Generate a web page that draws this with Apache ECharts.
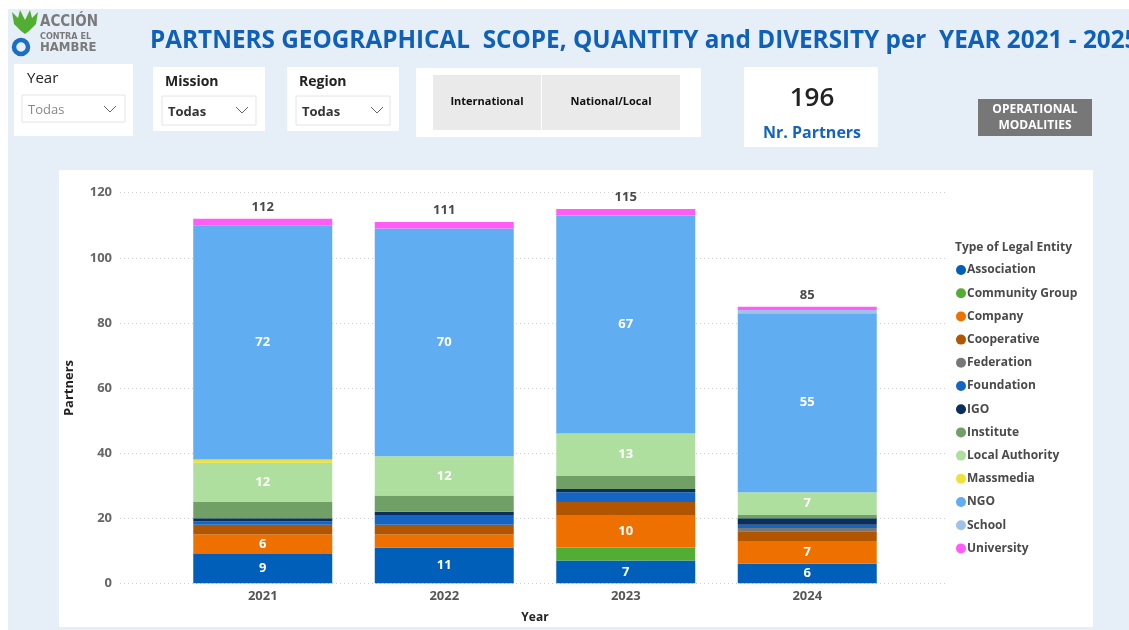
<!DOCTYPE html>
<html><head><meta charset="utf-8">
<script src="https://cdn.jsdelivr.net/npm/echarts@6/dist/echarts.min.js"></script>
<style>html,body{margin:0;padding:0;background:#fff}#c{width:1129px;height:630px}</style>
</head><body><div id="c"></div>
<script>
const years = ['2021', '2022', '2023', '2024'];
const entityTypes = ['Association','Community Group','Company','Cooperative','Federation','Foundation','IGO','Institute','Local Authority','Massmedia','NGO','School','University'];
const association     = [9, 11, 7, 6];
const communityGroup  = [0, 0, 4, 0];
const company         = [6, 4, 10, 7];
const cooperative     = [3, 3, 4, 3];
const federation      = [0, 0, 0, 1];
const foundation      = [1, 3, 3, 1];
const igo             = [1, 1, 1, 2];
const institute       = [5, 5, 4, 1];
const localAuthority  = [12, 12, 13, 7];
const massmedia       = [1, 0, 0, 0];
const ngo             = [72, 70, 67, 55];
const school          = [0, 0, 0, 1];
const university      = [2, 2, 2, 1];
const yTicks = [0, 20, 40, 60, 80, 100, 120];
const totalPartners = 196;

const seriesValues = [association, communityGroup, company, cooperative, federation, foundation, igo, institute, localAuthority, massmedia, ngo, school, university];
const colors = ['#005FB8','#52AD33','#EE7100','#B25500','#777777','#1466C2','#0A2F5C','#71A066','#AEDF9E','#F0E03A','#60ADF2','#9DC3EA','#FF5CF8'];
const totals = years.map((_, i) => seriesValues.reduce((s, arr) => s + arr[i], 0));

const chart = echarts.init(document.getElementById('c'));
const FONT = 'Open Sans';

const series = entityTypes.map((name, k) => {
  const isLast = k === entityTypes.length - 1;
  return {
    name, type: 'bar', stack: 'total', xAxisIndex: 1, yAxisIndex: 1,
    barWidth: 139,
    data: seriesValues[k].map(v => v === 0 ? null : v),
    itemStyle: { color: colors[k] },
    label: isLast ? {
      show: true, position: 'top', distance: 5,
      formatter: p => String(totals[p.dataIndex]),
      color: '#4A4A4A', fontWeight: 'bold', fontSize: 13, fontFamily: FONT
    } : {
      show: true, position: 'inside',
      formatter: p => p.value >= 6 ? String(p.value) : '',
      color: '#fff', fontWeight: 'bold', fontSize: 13, fontFamily: FONT
    },
    emphasis: { disabled: true }
  };
});

function chevron(x, y) {
  return { type: 'polyline', shape: { points: [[x, y], [x + 6, y + 6], [x + 12, y]] }, style: { stroke: '#666', lineWidth: 1, fill: null } };
}

const LOGO = '"DejaVu Sans Condensed", "Open Sans"';
const graphic = [
  { type: 'rect', z: -10, silent: true, shape: { x: 8, y: 9, width: 1121, height: 621 }, style: { fill: '#E6EFF8' } },
  { type: 'rect', z: -9, silent: true, shape: { x: 59, y: 170, width: 1034, height: 457 }, style: { fill: '#FFFFFF' } },
  // logo
  { type: 'polygon', shape: { points: [[12,12],[18,18],[20,10],[25,20],[30,10],[32,18],[38,12],[36,24],[29,31],[25,34],[21,31],[14,24]] }, style: { fill: '#52AE32' } },
  { type: 'circle', shape: { cx: 21, cy: 47, r: 7 }, style: { fill: 'none', stroke: '#1A6FC4', lineWidth: 4.5 } },
  { type: 'text', left: 40, top: 15, style: { text: 'ACCIÓN', font: 'bold 15px ' + LOGO, fill: '#7A7A7A' } },
  { type: 'text', left: 40, top: 32, style: { text: 'CONTRA EL', font: 'bold 9px ' + LOGO, fill: '#7A7A7A' } },
  { type: 'text', left: 40, top: 41, style: { text: 'HAMBRE', font: 'bold 13px ' + LOGO, fill: '#7A7A7A' } },
  // title
  { type: 'text', left: 150, top: 29, style: { text: 'PARTNERS GEOGRAPHICAL  SCOPE, QUANTITY and DIVERSITY per  YEAR 2021 - 2025', font: 'bold 24.3px "Open Sans"', fill: '#0F60B8' } },
  // Year slicer
  { type: 'rect', shape: { x: 14, y: 64, width: 119, height: 72 }, style: { fill: '#fff' } },
  { type: 'text', left: 27, top: 71, style: { text: 'Year', font: '15px "Open Sans"', fill: '#222' } },
  { type: 'rect', shape: { x: 22, y: 95, width: 103, height: 27 }, style: { fill: '#fff', stroke: '#E4E4E4', lineWidth: 1 } },
  { type: 'text', left: 28, top: 104, style: { text: 'Todas', font: '13px "Open Sans"', fill: '#888' } },
  chevron(104, 106),
  // Mission slicer
  { type: 'rect', shape: { x: 153, y: 67, width: 112, height: 64 }, style: { fill: '#fff' } },
  { type: 'text', left: 165, top: 75, style: { text: 'Mission', font: 'bold 14px "Open Sans"', fill: '#222' } },
  { type: 'rect', shape: { x: 162, y: 96, width: 94, height: 29 }, style: { fill: '#fff', stroke: '#E4E4E4', lineWidth: 1 } },
  { type: 'text', left: 168, top: 106, style: { text: 'Todas', font: 'bold 13px "Open Sans"', fill: '#333' } },
  chevron(236, 107),
  // Region slicer
  { type: 'rect', shape: { x: 287, y: 67, width: 112, height: 64 }, style: { fill: '#fff' } },
  { type: 'text', left: 299, top: 75, style: { text: 'Region', font: 'bold 14px "Open Sans"', fill: '#222' } },
  { type: 'rect', shape: { x: 296, y: 96, width: 94, height: 29 }, style: { fill: '#fff', stroke: '#E4E4E4', lineWidth: 1 } },
  { type: 'text', left: 302, top: 106, style: { text: 'Todas', font: 'bold 13px "Open Sans"', fill: '#333' } },
  chevron(371, 107),
  // scope buttons
  { type: 'rect', shape: { x: 416, y: 68, width: 285, height: 69 }, style: { fill: '#fff' } },
  { type: 'rect', shape: { x: 433, y: 75, width: 108, height: 55 }, style: { fill: '#EAEAEA' } },
  { type: 'rect', shape: { x: 542, y: 75, width: 138, height: 55 }, style: { fill: '#EAEAEA' } },
  { type: 'text', x: 487, y: 102, style: { text: 'International', font: 'bold 11px "Open Sans"', fill: '#111', align: 'center', verticalAlign: 'middle' } },
  { type: 'text', x: 611, y: 102, style: { text: 'National/Local', font: 'bold 11px "Open Sans"', fill: '#111', align: 'center', verticalAlign: 'middle' } },
  // KPI card
  { type: 'rect', shape: { x: 744, y: 67, width: 134, height: 80 }, style: { fill: '#fff' } },
  { type: 'text', x: 812, y: 99, style: { text: String(totalPartners), font: '600 26px "Open Sans"', fill: '#222', align: 'center', verticalAlign: 'middle' } },
  { type: 'text', x: 812, y: 133, style: { text: 'Nr. Partners', font: 'bold 16px "Open Sans"', fill: '#1264BE', align: 'center', verticalAlign: 'middle' } },
  // button
  { type: 'rect', shape: { x: 978, y: 99, width: 114, height: 37 }, style: { fill: '#777777' } },
  { type: 'text', x: 1035, y: 117.5, style: { text: 'OPERATIONAL\nMODALITIES', font: 'bold 12px "Open Sans"', fill: '#fff', align: 'center', verticalAlign: 'middle', lineHeight: 16 } },
  // legend title
  { type: 'text', left: 955, top: 242, style: { text: 'Type of Legal Entity', font: 'bold 12px "Open Sans"', fill: '#4A4A4A' } }
];

chart.setOption({
  backgroundColor: '#fff',
  animation: false,
  textStyle: { fontFamily: FONT },
  graphic,
  legend: {
    data: entityTypes, orient: 'vertical', left: 951, top: 258,
    icon: 'circle', itemWidth: 10, itemHeight: 10, itemGap: 9.2,
    textStyle: { fontSize: 12, fontWeight: 'bold', color: '#4A4A4A', fontFamily: FONT, lineHeight: 14, padding: [0, 0, 0, -4] },
    selectedMode: false
  },
  grid: [
    { left: 120, right: 184, top: 192.7, bottom: 46.7 },
    { left: 172, right: 231, top: 192.7, bottom: 46.7 }
  ],
  xAxis: [
    { type: 'value', gridIndex: 0, show: false, min: 0, max: 1 },
    { type: 'category', gridIndex: 1, data: years,
      axisLine: { show: false }, axisTick: { show: false },
      axisLabel: { color: '#555', fontWeight: 'bold', fontSize: 13, margin: 6, fontFamily: FONT },
      name: 'Year', nameLocation: 'middle', nameGap: 28,
      nameTextStyle: { color: '#222', fontWeight: 'bold', fontSize: 12, fontFamily: FONT } }
  ],
  yAxis: [
    { type: 'value', gridIndex: 0, min: 0, max: 120, interval: 20,
      axisLine: { show: false }, axisTick: { show: false },
      axisLabel: { color: '#666', fontWeight: 'bold', fontSize: 13, margin: 8, fontFamily: FONT,
        formatter: v => yTicks.includes(v) ? String(v) : '' },
      splitLine: { lineStyle: { color: '#CFCFCF', type: [1, 3], width: 1 } },
      name: 'Partners', nameLocation: 'middle', nameGap: 44, nameRotate: 90,
      nameTextStyle: { color: '#222', fontWeight: 'bold', fontSize: 13, fontFamily: FONT } },
    { type: 'value', gridIndex: 1, min: 0, max: 120, interval: 20, show: false }
  ],
  series
});
</script></body></html>
